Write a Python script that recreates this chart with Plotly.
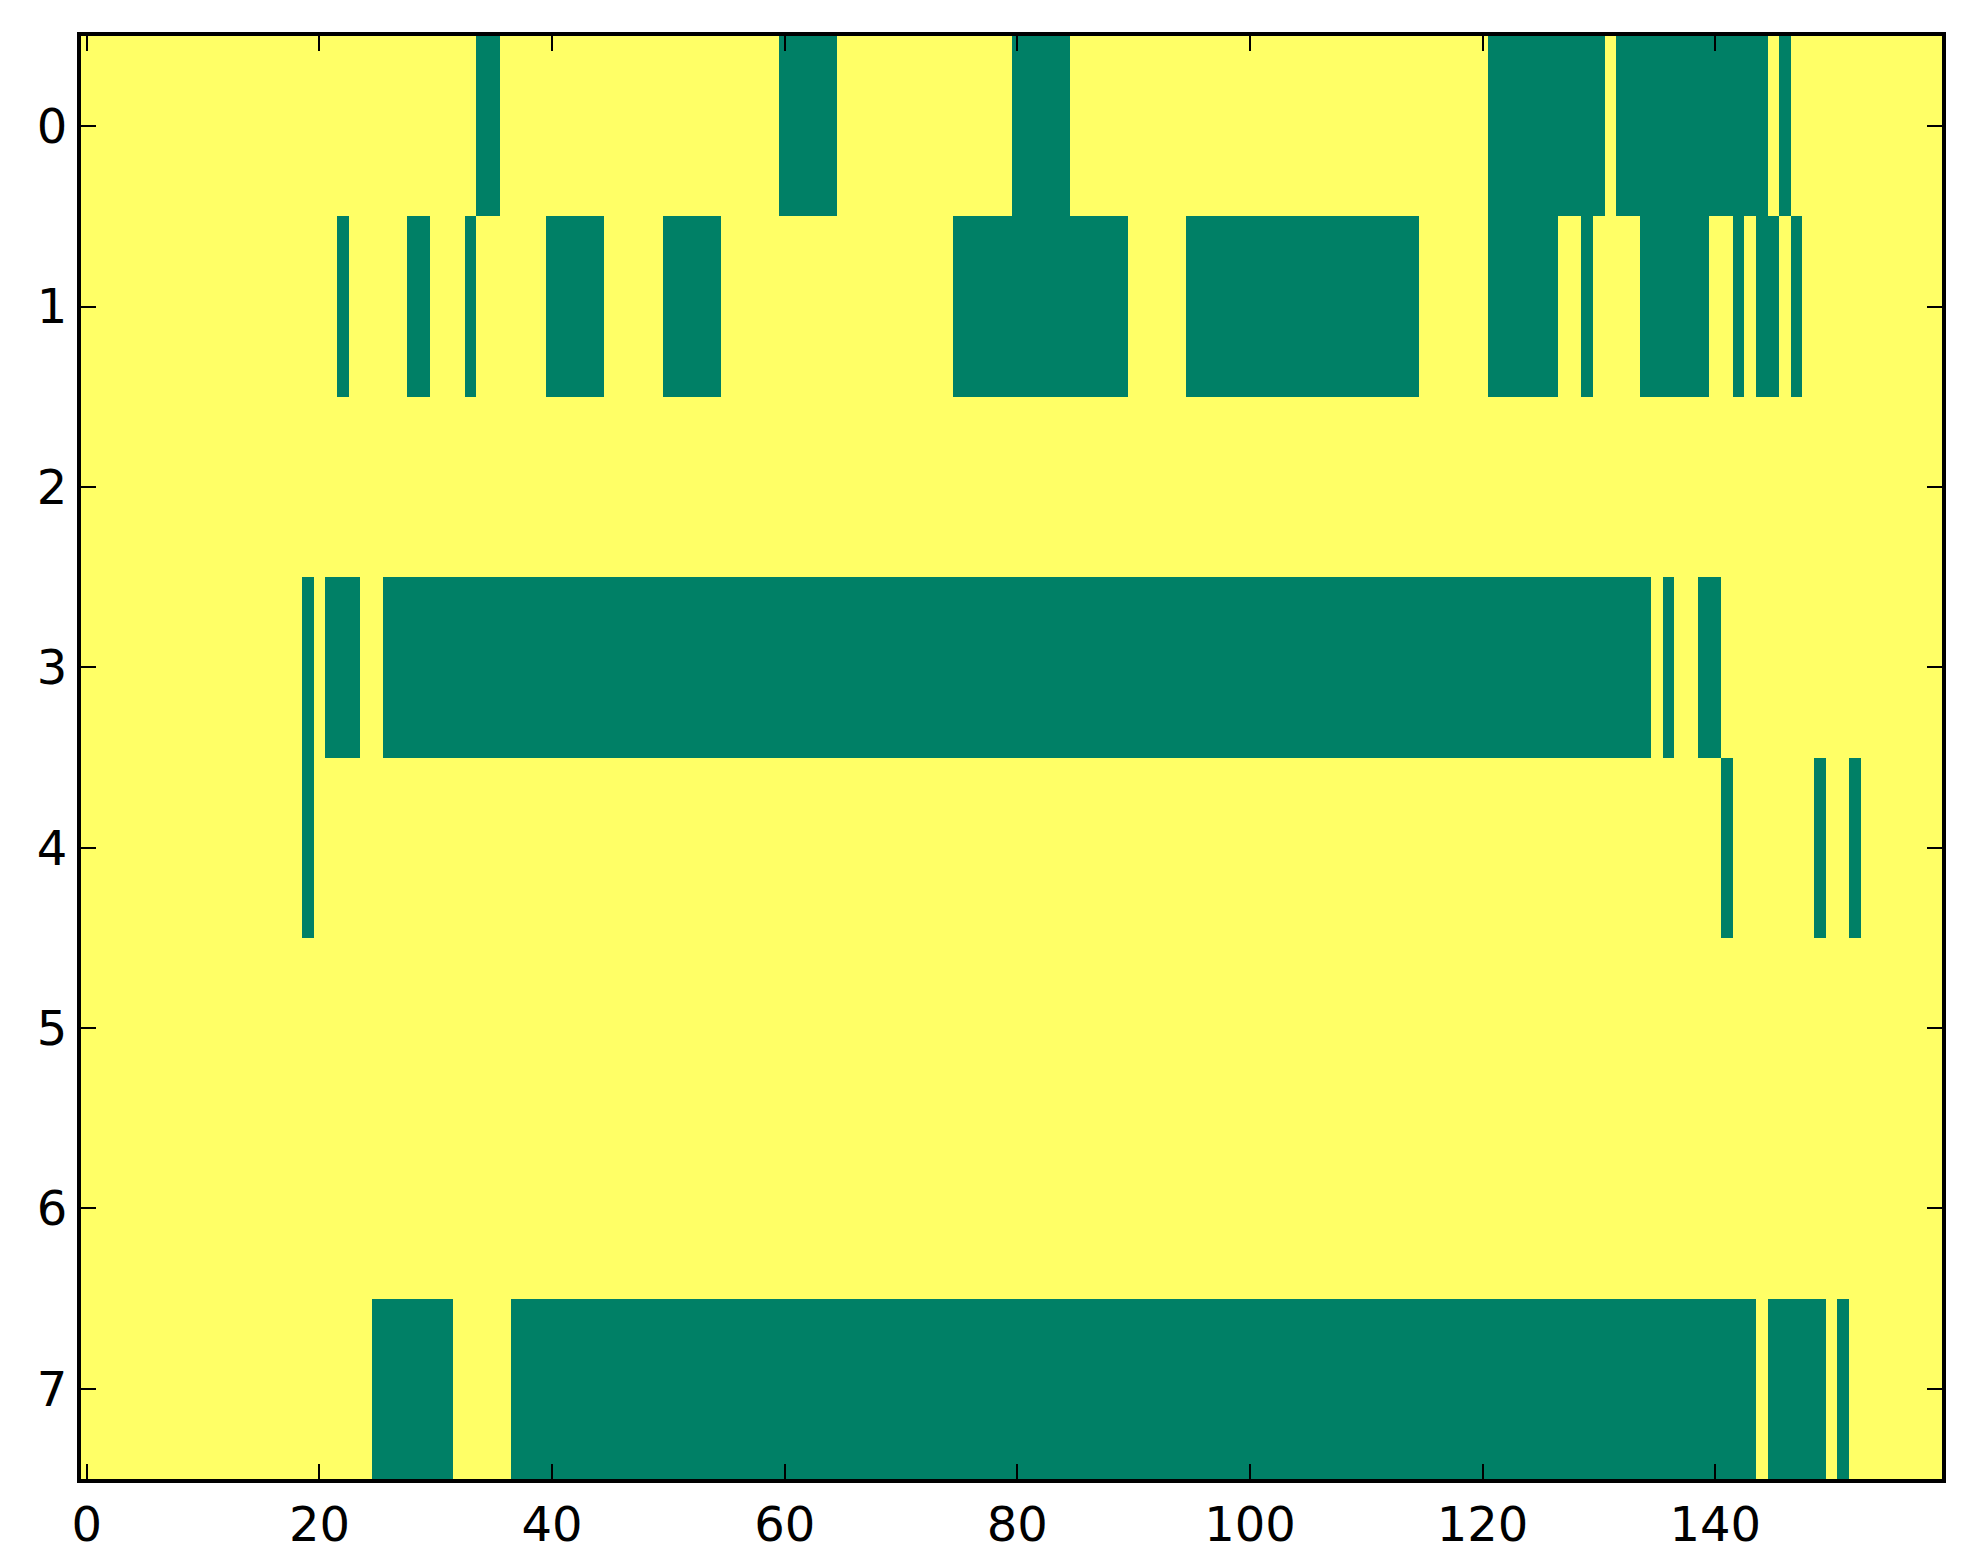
import numpy as np
import plotly.graph_objects as go

n_cols = 160
row_labels = [0, 1, 2, 3, 4, 5, 6, 7]

# green (value 0) runs per row, inclusive column ranges; everything else is 1
row0_runs = [(34, 35), (60, 64), (80, 84), (121, 130), (132, 144), (146, 146)]
row1_runs = [(22, 22), (28, 29), (33, 33), (40, 44), (50, 54), (75, 89), (95, 114),
             (121, 126), (129, 129), (134, 139), (142, 142), (144, 145), (147, 147)]
row2_runs = []
row3_runs = [(19, 19), (21, 23), (26, 134), (136, 136), (139, 140)]
row4_runs = [(19, 19), (141, 141), (149, 149), (152, 152)]
row5_runs = []
row6_runs = []
row7_runs = [(25, 31), (37, 143), (145, 149), (151, 151)]

x_ticks = [0, 20, 40, 60, 80, 100, 120, 140]


def build_matrix(runs_by_row):
    z = np.ones((len(runs_by_row), n_cols))
    for r, runs in enumerate(runs_by_row):
        for a, b in runs:
            z[r, a:b + 1] = 0
    return z


z = build_matrix([row0_runs, row1_runs, row2_runs, row3_runs,
                  row4_runs, row5_runs, row6_runs, row7_runs])

fig = go.Figure()
fig.add_trace(go.Heatmap(
    z=z,
    x=list(range(n_cols)),
    y=row_labels,
    zmin=0, zmax=1,
    colorscale=[[0, "#008066"], [1, "#ffff66"]],
    showscale=False,
    hoverinfo="skip",
))

axis_style = dict(
    showline=True, linecolor="black", linewidth=4, mirror="ticks",
    ticks="inside", ticklen=15, tickwidth=2, tickcolor="black",
    showgrid=False, zeroline=False,
    tickfont=dict(family="DejaVu Sans", size=48, color="black"),
)

fig.update_xaxes(range=[-0.5, 159.5], tickvals=x_ticks, **axis_style)
fig.update_yaxes(range=[7.5, -0.5], tickvals=row_labels, **axis_style)

fig.update_layout(
    width=1963, height=1564,
    margin=dict(l=73, r=29, t=28, b=93),
    paper_bgcolor="white", plot_bgcolor="white",
)

fig.write_html("out.html")
